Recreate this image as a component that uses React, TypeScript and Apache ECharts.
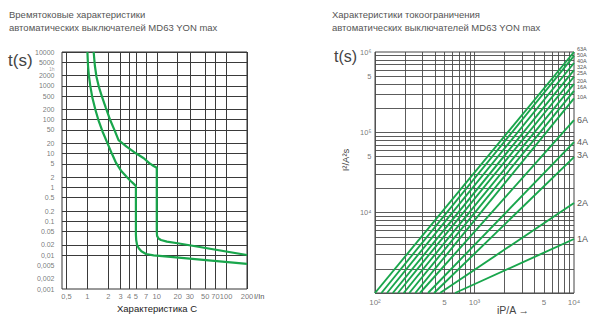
import React, { useEffect, useRef } from 'react';
import * as echarts from 'echarts';

// ---------- Left chart: time-current characteristic C ----------
const leftYTicks = [10000, 5000, 2000, 1000, 500, 200, 100, 50, 20, 10, 5, 2, 1, 0.5, 0.2, 0.1, 0.05, 0.02, 0.01, 0.005, 0.002, 0.001];
const leftYText = ['10000', '5000', '2000', '1000', '500', '200', '100', '50', '20', '10', '5', '2', '1', '0.5', '0.2', '0.1', '0.05', '0.02', '0,01', '0,005', '0,002', '0,001'];
const leftXTicks = [0.5, 1, 2, 3, 4, 5, 7, 10, 20, 30, 50, 70, 100, 200];
const leftXText = ['0,5', '1', '2', '3', '4', '5', '7', '10', '20', '30', '50', '70', '100', '200'];
const hourValue = 3600;
const hourText = '1h';

// lower boundary curve (I/In, t s)
const curveAI = [1.0, 1.02, 1.05, 1.1, 1.17, 1.3, 1.44, 1.65, 1.95, 2.25, 2.6, 3.1, 3.67, 4.2, 4.7, 5.0, 5.0, 5.0, 5.0, 5.05, 5.2, 5.5, 6.0, 7.0, 9.0, 12, 200];
const curveAT = [10000, 4000, 2000, 1000, 480, 200, 98, 45, 20, 10, 5.2, 3.0, 2.07, 1.55, 1.25, 1.1, 0.5, 0.1, 0.04, 0.028, 0.02, 0.016, 0.013, 0.0108, 0.0098, 0.0093, 0.0055];
// upper boundary curve
const curveBI = [1.23, 1.28, 1.35, 1.47, 1.62, 1.85, 2.13, 2.45, 2.81, 3.67, 5.0, 6.5, 7.8, 9.0, 10, 10, 10, 10.1, 10.6, 11.5, 14, 20, 200];
const curveBT = [10000, 4000, 1860, 900, 480, 220, 98, 50, 25, 16, 10.2, 7.3, 5.2, 4.3, 3.8, 0.5, 0.05, 0.037, 0.031, 0.028, 0.025, 0.0224, 0.0101];

// ---------- Right chart: let-through energy ----------
const ratings = ['63A', '50A', '40A', '32A', '25A', '20A', '16A', '10A', '6A', '4A', '3A', '2A', '1A'];
const startCurrent = [100, 116, 132, 151, 170, 194, 221, 254, 283, 341, 392, 450, 637];
const startEnergy = [1000, 1000, 1000, 1000, 1000, 1000, 1000, 1000, 1000, 1000, 1000, 1000, 1000];
const endCurrent = [10000, 10000, 10000, 10000, 10000, 10000, 10000, 10000, 10000, 10000, 10000, 10000, 10000];
const endEnergy = [1000000, 895000, 730000, 594000, 492000, 402000, 328000, 265000, 142000, 75500, 49200, 13200, 4700];
const labelNudge = [-3, -0.9, -2, -3.2, -3.7, -2.8, -3.9, -1.3, 0, 0, -2, 0, 0];

const rightXTicks = [100, 500, 1000, 5000, 10000];
const rightXText = ['10²', '5', '10³', '5', '10⁴'];
const rightYTicks = [1000000, 500000, 100000, 50000, 10000];
const rightYText = ['10⁶', '5', '10⁵', '5', '10⁴'];
const rightDecadesX = [100, 1000];
const rightDecadesY = [1000, 10000, 100000];
const steps = [1, 2, 3, 4, 5, 6, 7, 8, 9];

const GREEN = '#19a64c';
const NARROW = "'Liberation Sans Narrow', 'Liberation Sans', Arial, sans-serif";
const SANS = "'Liberation Sans', Arial, sans-serif";

function buildOption() {
  const L = { xmin: 0.43, xmax: 200, ymin: 0.001, ymax: 10000 };
  const R = { xmin: 100, xmax: 10000, ymin: 1000, ymax: 1000000 };

  const rightGridX: number[] = [];
  rightDecadesX.forEach((d) => steps.forEach((k) => rightGridX.push(k * d)));
  const rightGridY: number[] = [];
  rightDecadesY.forEach((d) => steps.forEach((k) => rightGridY.push(k * d)));

  const mlBase = (color: string, width: number) => ({
    silent: true,
    symbol: ['none', 'none'],
    z: 1,
    label: { show: false },
    emphasis: { disabled: true },
    lineStyle: { color, width, type: 'solid', opacity: 1 },
  });

  const labelScatter = (
    idx: number,
    pts: { value: [number, number]; name: string }[],
    position: string,
    distance: number,
    fontSize: number,
    color: string,
    markLine?: any,
    offset?: number[]
  ) => ({
    type: 'scatter',
    xAxisIndex: idx,
    yAxisIndex: idx,
    symbolSize: 1,
    silent: true,
    z: 1,
    itemStyle: { color: 'rgba(0,0,0,0)' },
    label: {
      show: true,
      position,
      distance,
      formatter: '{b}',
      fontSize,
      lineHeight: fontSize,
      color,
      fontFamily: NARROW,
      offset: offset || [0, 0],
    },
    data: pts,
    markLine,
  });

  const series: any[] = [];

  // left grid lines + labels
  series.push(
    labelScatter(
      0,
      leftYTicks.map((v, i) => ({ value: [L.xmin, v] as [number, number], name: leftYText[i] })),
      'left',
      7,
      7,
      '#555',
      {
        ...mlBase('#3a3a3a', 1),
        data: [
          ...leftYTicks.map((v) => ({ yAxis: v })),
          ...leftXTicks.map((v) => ({ xAxis: v })),
        ],
      }
    )
  );
  series.push(
    labelScatter(
      0,
      leftXTicks.map((v, i) => ({ value: [v, L.ymin] as [number, number], name: leftXText[i] })),
      'bottom',
      3,
      7.5,
      '#555'
    )
  );
  series.push(
    labelScatter(0, [{ value: [L.xmin, hourValue], name: hourText }], 'left', 7, 5, '#888', undefined, [0, 1.9])
  );

  // left curves
  series.push({
    type: 'line',
    xAxisIndex: 0,
    yAxisIndex: 0,
    z: 10,
    symbol: 'none',
    silent: true,
    lineStyle: { color: GREEN, width: 2.2 },
    data: curveAI.map((v, i) => [v, curveAT[i]]),
  });
  series.push({
    type: 'line',
    xAxisIndex: 0,
    yAxisIndex: 0,
    z: 10,
    symbol: 'none',
    silent: true,
    lineStyle: { color: GREEN, width: 2.2 },
    data: curveBI.map((v, i) => [v, curveBT[i]]),
  });

  // right grid lines + labels
  series.push(
    labelScatter(
      1,
      rightYTicks.map((v, i) => ({ value: [R.xmin, v] as [number, number], name: rightYText[i] })),
      'left',
      3,
      7.5,
      '#555',
      {
        ...mlBase('#4a4a4a', 0.9),
        data: [
          ...rightGridY.map((v) => ({ yAxis: v })),
          ...rightGridX.map((v) => ({ xAxis: v })),
        ],
      }
    )
  );
  series.push(
    labelScatter(
      1,
      rightXTicks.map((v, i) => ({ value: [v, R.ymin] as [number, number], name: rightXText[i] })),
      'bottom',
      5,
      8,
      '#555'
    )
  );

  ratings.forEach((name, i) => {
    const small = i < 8;
    series.push({
      type: 'line',
      name,
      xAxisIndex: 1,
      yAxisIndex: 1,
      z: 10,
      symbol: 'none',
      silent: true,
      lineStyle: { color: GREEN, width: 1.9 },
      data: [
        [startCurrent[i], startEnergy[i]],
        [endCurrent[i], endEnergy[i]],
      ],
      endLabel: {
        show: true,
        formatter: name,
        distance: 3,
        offset: [0, labelNudge[i]],
        fontSize: small ? 5.5 : 9,
        lineHeight: small ? 6 : 10,
        color: '#555',
        fontFamily: NARROW,
      },
    });
  });

  return {
    animation: false,
    backgroundColor: '#fff',
    tooltip: { show: false },
    grid: [
      { left: 62, top: 52, width: 185, height: 237, show: true, borderColor: '#333', borderWidth: 1, backgroundColor: 'transparent' },
      { left: 375, top: 52, width: 199, height: 241, show: true, borderColor: '#444', borderWidth: 1, backgroundColor: 'transparent' },
    ],
    xAxis: [
      { type: 'log', logBase: 10, gridIndex: 0, min: L.xmin, max: L.xmax, show: false },
      { type: 'log', logBase: 10, gridIndex: 1, min: R.xmin, max: R.xmax, show: false },
    ],
    yAxis: [
      { type: 'log', logBase: 10, gridIndex: 0, min: L.ymin, max: L.ymax, show: false },
      { type: 'log', logBase: 10, gridIndex: 1, min: R.ymin, max: R.ymax, show: false },
    ],
    graphic: [
      {
        type: 'text',
        left: 9,
        top: 8,
        style: {
          text: 'Времятоковые характеристики\nавтоматических выключателей MD63 YON max',
          fontSize: 9.5,
          lineHeight: 13,
          fill: '#555',
          fontFamily: SANS,
        },
      },
      {
        type: 'text',
        left: 332,
        top: 8,
        style: {
          text: 'Характеристики токоограничения\nавтоматических выключателей MD63 YON max',
          fontSize: 9.5,
          lineHeight: 13,
          fill: '#555',
          fontFamily: SANS,
        },
      },
      { type: 'text', left: 8, top: 52, style: { text: 't(s)', fontSize: 17, fill: '#444', fontFamily: SANS } },
      { type: 'text', left: 334, top: 48, style: { text: 't(s)', fontSize: 16, fill: '#444', fontFamily: SANS } },
      {
        type: 'text',
        x: 345,
        y: 160,
        rotation: Math.PI / 2,
        style: { text: 'I²/A²s', fontSize: 9.5, fill: '#444', fontFamily: SANS, align: 'center', verticalAlign: 'middle' },
      },
      { type: 'text', left: 254, top: 292, style: { text: 'I/In', fontSize: 7.5, fill: '#555', fontFamily: NARROW } },
      { type: 'text', left: 117, top: 303, style: { text: 'Характеристика C', fontSize: 9.5, fill: '#222', fontFamily: SANS } },
      { type: 'text', left: 497, top: 304, style: { text: 'iP/A →', fontSize: 10.5, fill: '#444', fontFamily: SANS } },
    ],
    series,
  };
}

export default function App() {
  const ref = useRef<HTMLDivElement>(null);
  useEffect(() => {
    if (!ref.current) return;
    document.body.style.margin = '0';
    const chart = echarts.init(ref.current, null, { renderer: 'svg', width: 600, height: 325 });
    chart.setOption(buildOption() as any);
    return () => chart.dispose();
  }, []);
  return <div ref={ref} style={{ width: 600, height: 325, background: '#fff' }} />;
}
